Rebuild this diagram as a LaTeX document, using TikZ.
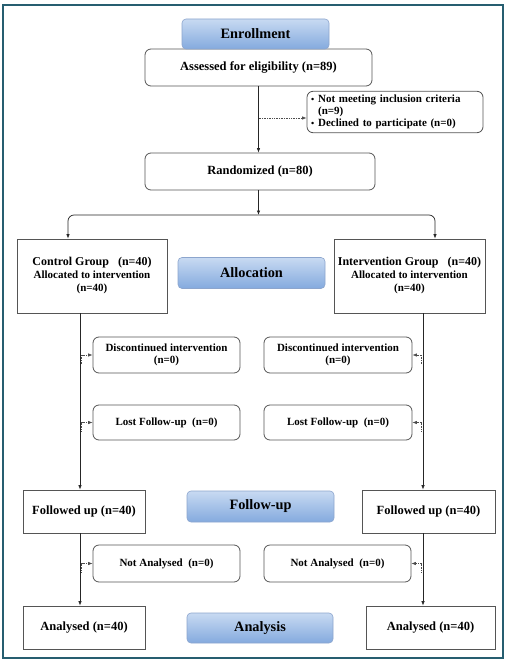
\documentclass[tikz,border=0pt]{standalone}
\usepackage{fontspec}
\setmainfont{Liberation Serif}
\usetikzlibrary{arrows.meta}
\definecolor{framecol}{RGB}{38,94,112}
\definecolor{hdtop}{RGB}{200,218,242}
\definecolor{hdbot}{RGB}{132,170,222}
\definecolor{hdline}{RGB}{140,165,205}
\definecolor{boxline}{RGB}{85,85,85}
\tikzset{
  base/.style={draw=boxline, line width=0.8pt, fill=white, font=\bfseries\fontsize{12.5}{13.5}\selectfont, align=center, inner sep=1pt},
  sqbox/.style={base},
  rdbox/.style={base, rounded corners=6pt},
  smallrd/.style={rdbox, font=\bfseries\fontsize{11}{12.5}\selectfont},
  header/.style={draw=hdline, line width=0.6pt, rounded corners=4pt, top color=hdtop, bottom color=hdbot, font=\bfseries\fontsize{14.3}{16}\selectfont, inner sep=0pt},
  arr/.style={draw=black!85, line width=0.7pt, -{Latex[length=4.5pt,width=3.5pt]}},
  dotarr/.style={draw=black!70, line width=0.7pt, densely dotted, -{Latex[length=4.5pt,width=3.5pt]}},
  frame/.style={draw=framecol, line width=1.4pt}
}
\begin{document}
\begin{tikzpicture}[x=1pt,y=-1pt]
\useasboundingbox (0,0) rectangle (508,663);
\draw[frame] (3,5) rectangle (503,658);

% top part
\node[rdbox, minimum width=227, minimum height=37] (ass) at (258.5,67.5) {Assessed for eligibility (n=89)};
\node[header, minimum width=147, minimum height=30] (enr) at (255.5,34) {Enrollment};
\node[rdbox, minimum width=176, minimum height=40, text width=168, align=left, inner sep=3pt, font=\bfseries\fontsize{11}{11.8}\selectfont] (excl) at (395,112)
  {\begin{tabular}{@{}l@{\hspace{4pt}}l@{}}{\small•} & Not meeting inclusion criteria\\ & (n=9)\\ {\small•} & Declined to participate (n=0)\end{tabular}};
\node[rdbox, minimum width=230, minimum height=37] (rand) at (260,171.5) {Randomized (n=80)};

% allocation
\node[sqbox, minimum width=150, minimum height=74, font=\bfseries\fontsize{12}{13}\selectfont] (ctrl) at (92,276)
  {Control Group\ \ \ (n=40)\\[0pt] {\fontsize{11}{13}\selectfont Allocated to intervention}\\[0pt] {\fontsize{11}{13}\selectfont (n=40)}};
\node[sqbox, minimum width=151, minimum height=74, font=\bfseries\fontsize{12}{13}\selectfont] (intv) at (409.5,276)
  {Intervention Group\ \ \ (n=40)\\[0pt] {\fontsize{11}{13}\selectfont Allocated to intervention}\\[0pt] {\fontsize{11}{13}\selectfont (n=40)}};
\node[header, minimum width=147, minimum height=31] (alloc) at (251.5,273) {Allocation};

\node[smallrd, minimum width=147, minimum height=36] (dcl) at (166.5,355) {Discontinued intervention\\(n=0)};
\node[smallrd, minimum width=148, minimum height=36] (dcr) at (338,355) {Discontinued intervention\\(n=0)};
\node[smallrd, minimum width=147, minimum height=35] (lfl) at (166.5,422.5) {Lost Follow-up\ \ (n=0)};
\node[smallrd, minimum width=148, minimum height=35] (lfr) at (338,422.5) {Lost Follow-up\ \ (n=0)};

% follow-up
\node[sqbox, minimum width=122, minimum height=43] (ful) at (84,511.5) {Followed up (n=40)};
\node[sqbox, minimum width=133, minimum height=43] (fur) at (428.5,511.5) {Followed up (n=40)};
\node[header, minimum width=147, minimum height=31] (fuh) at (260.5,506.5) {Follow-up};

\node[smallrd, minimum width=147, minimum height=37] (nal) at (166.5,563.5) {Not Analysed\ \ (n=0)};
\node[smallrd, minimum width=147, minimum height=37] (nar) at (337.5,563.5) {Not Analysed\ \ (n=0)};

% analysis
\node[sqbox, minimum width=122, minimum height=43] (anl) at (84,627.5) {Analysed (n=40)};
\node[sqbox, minimum width=129, minimum height=43] (anr) at (430.5,627.5) {Analysed (n=40)};
\node[header, minimum width=146, minimum height=30] (anh) at (260,628) {Analysis};

% connectors
\draw[arr] (ass.south) -- (ass.south |- rand.north);
\coordinate (e1) at (258.5,118);
\draw[dotarr] (e1) -- (e1 -| excl.west);

\coordinate (sp) at (258.5,215);
\draw[arr] (rand.south -| sp) -- (sp);
\draw[arr, rounded corners=6pt] (sp) -| ([xshift=-24pt]ctrl.north);
\draw[arr, rounded corners=6pt] (sp) -| ([xshift=25.5pt]intv.north);

\coordinate (lt) at ([xshift=-12pt]ctrl.south);
\coordinate (rt) at ([xshift=13.5pt]intv.south);
\draw[arr] (lt) -- (lt |- ful.north);
\draw[arr] (rt) -- (rt |- fur.north);

\coordinate (l1) at ([yshift=-9pt]lt |- dcl.west);
\coordinate (l2) at ([yshift=-9pt]lt |- lfl.west);
\coordinate (r1) at ([yshift=-9pt]rt |- dcr.east);
\coordinate (r2) at ([yshift=-9pt]rt |- lfr.east);
\draw[dotarr] ([xshift=1.5pt]l1) |- (dcl.west);
\draw[dotarr] ([xshift=1.5pt]l2) |- (lfl.west);
\draw[dotarr] ([xshift=-1.5pt]r1) |- (dcr.east);
\draw[dotarr] ([xshift=-1.5pt]r2) |- (lfr.east);

\coordinate (lb) at ([xshift=-4pt]ful.south);
\coordinate (rb) at ([xshift=-5.5pt]fur.south);
\draw[arr] (lb) -- (lb |- anl.north);
\draw[arr] (rb) -- (rb |- anr.north);
\coordinate (l3) at ([yshift=-9pt]lb |- nal.west);
\coordinate (r3) at ([yshift=-9pt]rb |- nar.east);
\draw[dotarr] ([xshift=1.5pt]l3) |- (nal.west);
\draw[dotarr] ([xshift=-1.5pt]r3) |- (nar.east);
\end{tikzpicture}
\end{document}
